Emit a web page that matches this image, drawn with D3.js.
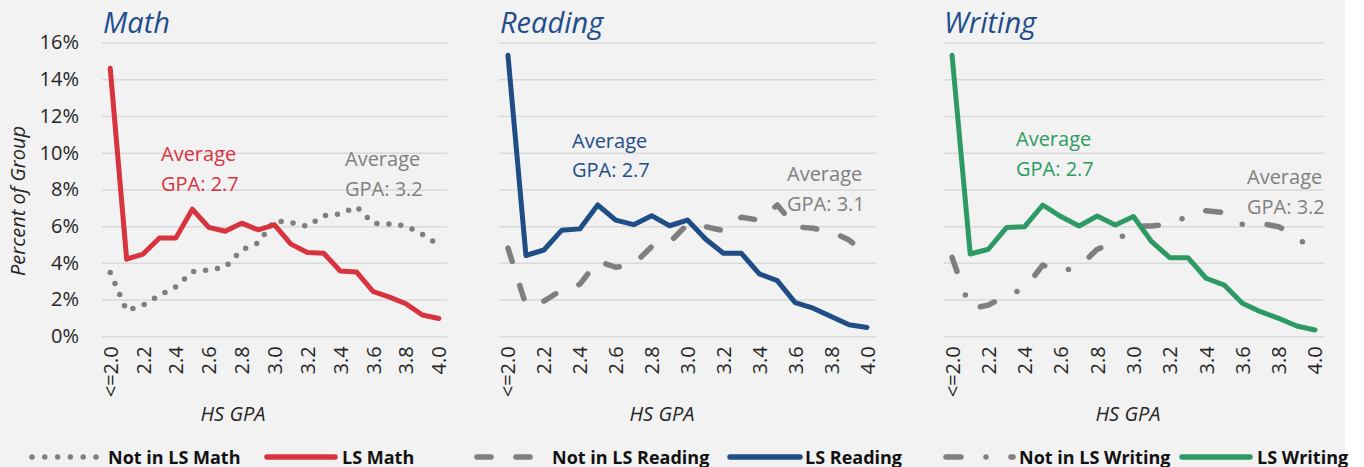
<!DOCTYPE html>
<html>
<head>
<meta charset="utf-8">
<script src="https://cdn.jsdelivr.net/npm/d3@7.9.0/dist/d3.min.js"></script>
<style>
  body { margin: 0; background: #fff; }
  svg { display: block; font-family: "Open Sans", "Noto Sans", sans-serif; }
</style>
</head>
<body>
<svg id="chart"></svg>
<script>
// categories on the x axis (HS GPA buckets)
const categories = ['<=2.0', '2.1', '2.2', '2.3', '2.4', '2.5', '2.6', '2.7', '2.8', '2.9',
  '3.0', '3.1', '3.2', '3.3', '3.4', '3.5', '3.6', '3.7', '3.8', '3.9', '4.0'];
// only every other label is printed
const tickLabels = categories.filter((d, i) => i % 2 === 0);
const yTicks = [0, 2, 4, 6, 8, 10, 12, 14, 16];

// percent of group
const mathLS = [14.6, 4.2, 4.48, 5.35, 5.36, 6.92, 5.93, 5.72, 6.16, 5.8, 6.07,
  5.02, 4.56, 4.52, 3.56, 3.5, 2.44, 2.13, 1.77, 1.16, 0.97];
const mathNot = [3.47, 1.4, 1.7, 2.23, 2.7, 3.52, 3.62, 3.76, 4.7, 5.08, 6.3,
  6.19, 5.99, 6.57, 6.66, 7.06, 6.15, 6.12, 6.02, 5.55, 4.97];
const readLS = [15.3, 4.4, 4.7, 5.78, 5.85, 7.15, 6.33, 6.08, 6.57, 6.02, 6.33,
  5.3, 4.52, 4.52, 3.4, 3.03, 1.83, 1.53, 1.08, 0.63, 0.48];
const readNot = [4.8, 1.7, 1.92, 2.52, 2.83, 4.1, 3.76, 3.92, 4.88, 5.12, 6.1,
  5.97, 5.75, 6.48, 6.33, 7.15, 5.97, 5.88, 5.7, 5.24, 4.43];
const writeLS = [15.3, 4.48, 4.74, 5.92, 5.97, 7.15, 6.52, 6.01, 6.55, 6.06, 6.52,
  5.15, 4.28, 4.28, 3.16, 2.79, 1.8, 1.34, 0.98, 0.56, 0.34];
const writeNot = [4.3, 1.49, 1.7, 2.23, 2.6, 3.88, 3.52, 3.79, 4.74, 5.1, 6.01,
  6.01, 6.1, 6.55, 6.84, 6.73, 6.1, 6.15, 5.97, 5.42, 4.55];

const titles = ['Math', 'Reading', 'Writing'];
const lsAverages = ['2.7', '2.7', '2.7'];
const notAverages = ['3.2', '3.1', '3.2'];

const width = 1364;
const height = 467;
const grey = '#7f7f7f';

const panels = [
  { title: titles[0], ls: mathLS, not: mathNot, color: '#d7343f', dash: '0 12', notWidth: 5.5,
    left: 102, right: 447, xTitle: 233,
    lsNote: [161, 161], notNote: [345, 166],
    legend: [32, 97, 108, 267, 335, 342] },
  { title: titles[1], ls: readLS, not: readNot, color: '#1f4e87', dash: '14 25', notWidth: 5.5,
    left: 499, right: 876, xTitle: 662,
    lsNote: [572, 147.5], notNote: [787, 181],
    legend: [477, 540, 552, 730, 800, 805] },
  { title: titles[2], ls: writeLS, not: writeNot, color: '#2e9a63', dash: '15 25 0 25', notWidth: 5.5,
    left: 943, right: 1324, xTitle: 1128,
    lsNote: [1016, 146], notNote: [1247, 184],
    legend: [946, 1013, 1019, 1182, 1250, 1257] },
];

const svg = d3.select('#chart').attr('width', width).attr('height', height);

svg.append('rect')
  .attr('width', 1345)
  .attr('height', height)
  .attr('fill', '#f2f2f2');

const y = d3.scaleLinear().domain([0, 16]).range([336.3, 42.5]);

panels.forEach((p, k) => {
  const x = d3.scalePoint().domain(categories).range([p.left, p.right]).padding(0.5);

  // gridlines
  svg.append('g')
    .attr('transform', `translate(${p.left},0)`)
    .call(d3.axisLeft(y).tickValues(yTicks).tickSize(-(p.right - p.left)).tickFormat(''))
    .call((g) => g.select('.domain').remove())
    .selectAll('line')
    .attr('stroke', '#d9d9d9')
    .attr('stroke-width', 1.5);

  // y labels only on the first panel
  if (k === 0) {
    const ya = svg.append('g')
      .attr('transform', `translate(${p.left},0)`)
      .call(d3.axisLeft(y).tickValues(yTicks).tickSize(0).tickPadding(23).tickFormat((d) => d + '%'));
    ya.select('.domain').remove();
    ya.selectAll('text')
      .attr('font-size', 20)
      .attr('font-family', '"Open Sans", sans-serif')
      .attr('fill', '#262626');

    svg.append('text')
      .attr('transform', 'translate(25,201) rotate(-90)')
      .attr('text-anchor', 'middle')
      .attr('font-size', 20)
      .attr('font-style', 'italic')
      .attr('fill', '#262626')
      .text('Percent of Group');
  }

  // x axis, rotated labels
  const xa = svg.append('g')
    .attr('transform', `translate(0,${y(0)})`)
    .call(d3.axisBottom(x).tickValues(tickLabels).tickSize(0));
  xa.select('.domain').remove();
  xa.selectAll('text')
    .attr('transform', 'rotate(-90)')
    .attr('text-anchor', 'end')
    .attr('x', -10)
    .attr('y', 0)
    .attr('dy', '0.35em')
    .attr('font-size', 20)
    .attr('font-family', '"Open Sans", sans-serif')
    .attr('fill', '#262626');

  svg.append('text')
    .attr('x', p.xTitle)
    .attr('y', 421)
    .attr('text-anchor', 'middle')
    .attr('font-size', 20)
    .attr('font-style', 'italic')
    .attr('fill', '#262626')
    .text('HS GPA');

  // panel title
  svg.append('text')
    .attr('x', p.left + 1)
    .attr('y', 33)
    .attr('font-size', 29)
    .attr('font-style', 'italic')
    .attr('fill', '#1f4e8c')
    .text(p.title);

  const line = d3.line()
    .x((d, i) => x(categories[i]))
    .y((d) => y(d));

  svg.append('path')
    .datum(p.not)
    .attr('d', line)
    .attr('fill', 'none')
    .attr('stroke', grey)
    .attr('stroke-width', p.notWidth)
    .attr('stroke-dasharray', p.dash)
    .attr('stroke-linecap', 'round')
    .attr('stroke-linejoin', 'round');

  svg.append('path')
    .datum(p.ls)
    .attr('d', line)
    .attr('fill', 'none')
    .attr('stroke', p.color)
    .attr('stroke-width', 5)
    .attr('stroke-linecap', 'round')
    .attr('stroke-linejoin', 'round');

  // average notes
  const note = (pos, color, avg) => {
    const t = svg.append('text')
      .attr('x', pos[0])
      .attr('y', pos[1])
      .attr('font-size', 20)
      .attr('fill', color);
    t.append('tspan').attr('x', pos[0]).text('Average');
    t.append('tspan').attr('x', pos[0]).attr('dy', 29.5).text('GPA: ' + avg);
  };
  note(p.lsNote, p.color, lsAverages[k]);
  note(p.notNote, '#808080', notAverages[k]);

  // legend
  const [a0, a1, at, b0, b1, bt] = p.legend;
  const ly = 457;
  svg.append('line')
    .attr('x1', a0).attr('x2', a1).attr('y1', ly).attr('y2', ly)
    .attr('stroke', grey)
    .attr('stroke-width', p.notWidth)
    .attr('stroke-dasharray', k === 0 ? '0 12.8' : p.dash)
    .attr('stroke-linecap', 'round');
  svg.append('text')
    .attr('x', at).attr('y', 463.5)
    .attr('font-size', 18).attr('font-weight', 'bold').attr('fill', '#111')
    .text('Not in LS ' + p.title);
  svg.append('line')
    .attr('x1', b0).attr('x2', b1).attr('y1', ly).attr('y2', ly)
    .attr('stroke', p.color)
    .attr('stroke-width', 5.5)
    .attr('stroke-linecap', 'round');
  svg.append('text')
    .attr('x', bt).attr('y', 463.5)
    .attr('font-size', 18).attr('font-weight', 'bold').attr('fill', '#111')
    .text('LS ' + p.title);
});
</script>
</body>
</html>
